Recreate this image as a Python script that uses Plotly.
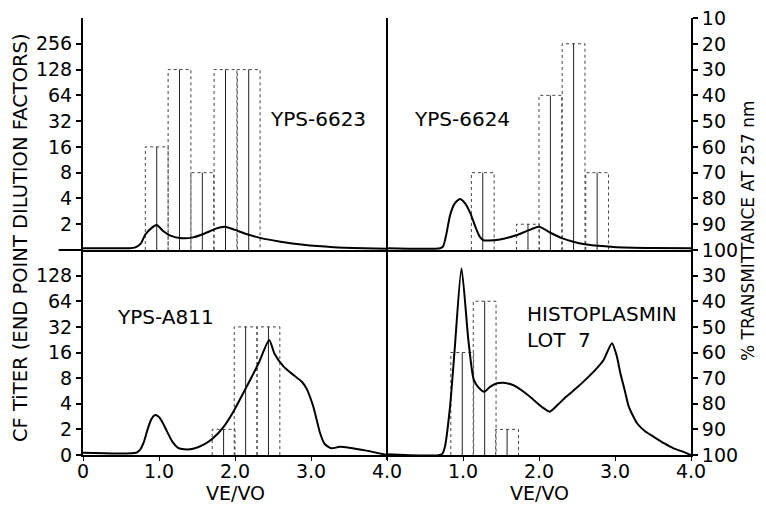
import math
import plotly.graph_objects as go

# ---------------- data ----------------
ve_tick_vals = [0, 1, 2, 3, 4]
ve_tick_text_left = ["0", "1.0", "2.0", "3.0", "4.0"]
ve_tick_text_right = ["", "1.0", "2.0", "3.0", "4.0"]

titer_ticks_top = [2, 4, 8, 16, 32, 64, 128, 256]
titer_ticks_bottom = [0, 2, 4, 8, 16, 32, 64, 128]
trans_ticks_top = [10, 20, 30, 40, 50, 60, 70, 80, 90, 100]
trans_ticks_bottom = [30, 40, 50, 60, 70, 80, 90, 100]

pair_width = 0.30  # VE/VO span of one pair of fractions

# Panel 1: YPS-6623
p1_label = "YPS-6623"
p1_bar_ve = [0.97, 1.27, 1.57, 1.875, 2.18]
p1_bar_titer = [16, 128, 8, 128, 128]
p1_curve_ve = [0, 0.6, 0.68, 0.76, 0.82, 0.9, 0.97, 1.05, 1.15, 1.3, 1.45, 1.6, 1.75,
               1.87, 2.0, 2.15, 2.33, 2.6, 2.9, 3.3, 3.7, 4.0]
p1_curve_trans = [99.3, 99.3, 99.1, 97.5, 94.0, 91.5, 90.3, 92.5, 94.4, 95.4, 95.1, 93.6, 91.7,
                  91.0, 92.2, 93.8, 95.3, 96.8, 98.0, 98.9, 99.3, 99.5]

# Panel 2: YPS-6624
p2_label = "YPS-6624"
p2_bar_ve = [1.26, 1.855, 2.15, 2.455, 2.765]
p2_bar_titer = [8, 2, 64, 256, 8]
p2_curve_ve = [0, 0.7, 0.74, 0.78, 0.83, 0.89, 0.96, 1.03, 1.1, 1.17, 1.22, 1.27, 1.4, 1.55,
               1.71, 1.85, 2.0, 2.15, 2.3, 2.45, 2.63, 2.98, 3.5, 4.0]
p2_curve_trans = [99.3, 99.3, 98.5, 94.0, 86.5, 82.0, 80.2, 82.0, 86.0, 91.5, 94.8, 96.2, 96.2, 95.5,
                  94.2, 92.5, 91.0, 93.3, 95.4, 96.8, 97.9, 98.8, 99.2, 99.3]

# Panel 3: YPS-A811
p3_label = "YPS-A811"
p3_bar_ve = [1.85, 2.14, 2.44]
p3_bar_titer = [2, 32, 32]
p3_curve_ve = [0, 0.7, 0.75, 0.8, 0.85, 0.9, 0.95, 1.0, 1.05, 1.1, 1.18, 1.25, 1.33, 1.45, 1.6,
               1.71, 1.85, 1.98, 2.15, 2.31, 2.45, 2.52, 2.64, 2.77, 2.88, 2.94, 3.03, 3.12,
               3.18, 3.27, 3.38, 3.73, 4.0]
p3_curve_trans = [99.1, 99.1, 98.0, 95.0, 90.0, 86.0, 84.4, 85.2, 87.5, 90.5, 95.0, 97.2, 97.8, 97.6, 95.8,
                  93.5, 89.0, 83.0, 73.5, 64.2, 55.1, 60.5, 65.5, 68.8, 71.4, 74.0, 81.1, 91.5,
                  95.7, 97.4, 96.8, 98.3, 100.0]

# Panel 4: HISTOPLASMIN LOT 7
p4_label = "HISTOPLASMIN<br>LOT  7"
p4_bar_ve = [0.99, 1.285, 1.58]
p4_bar_titer = [16, 64, 2]
p4_curve_ve = [0, 0.72, 0.76, 0.83, 0.89, 0.98, 1.07, 1.14, 1.2, 1.28, 1.36, 1.45, 1.53, 1.62,
               1.71, 1.82, 1.93, 2.05, 2.14, 2.25, 2.36, 2.5, 2.63, 2.75, 2.85, 2.96, 3.02,
               3.07, 3.13, 3.18, 3.29, 3.4, 3.51, 3.65, 3.77, 3.9, 4.0]
p4_curve_trans = [99.7, 99.7, 97.0, 81.0, 59.0, 27.1, 55.0, 70.5, 73.5, 75.3, 73.3, 72.0, 71.8, 72.3,
                  73.5, 75.8, 78.5, 81.5, 83.1, 80.3, 77.2, 73.7, 70.1, 66.5, 62.9, 56.4, 61.0,
                  68.0, 75.0, 81.0, 87.6, 90.8, 92.9, 95.5, 97.4, 98.8, 100.0]


def titer_level(t):
    return math.log2(t) if t > 0 else 0


FONT = "DejaVu Sans"
fig = go.Figure()


def add_panel(bar_ve, bar_titer, curve_ve, curve_trans, xa, ya_titer, ya_trans):
    ox, oy, cx, cy = [], [], [], []
    for ve, t in zip(bar_ve, bar_titer):
        h = titer_level(t)
        l, r = ve - pair_width / 2, ve + pair_width / 2
        ox += [l, l, r, r, None]
        oy += [0, h, h, 0, None]
        cx += [ve, ve, None]
        cy += [0, h, None]
    fig.add_trace(go.Scatter(x=ox, y=oy, mode="lines", xaxis=xa, yaxis=ya_titer,
                             line=dict(color="#444444", width=1, dash="dot"),
                             hoverinfo="skip", showlegend=False))
    fig.add_trace(go.Scatter(x=cx, y=cy, mode="lines", xaxis=xa, yaxis=ya_titer,
                             line=dict(color="#222222", width=1),
                             hoverinfo="skip", showlegend=False))
    fig.add_trace(go.Scatter(x=curve_ve, y=curve_trans, mode="lines", xaxis=xa, yaxis=ya_trans,
                             line=dict(color="black", width=2, shape="spline", smoothing=0.6),
                             showlegend=False))


add_panel(p1_bar_ve, p1_bar_titer, p1_curve_ve, p1_curve_trans, "x", "y", "y2")
add_panel(p2_bar_ve, p2_bar_titer, p2_curve_ve, p2_curve_trans, "x2", "y", "y2")
add_panel(p3_bar_ve, p3_bar_titer, p3_curve_ve, p3_curve_trans, "x3", "y3", "y4")
add_panel(p4_bar_ve, p4_bar_titer, p4_curve_ve, p4_curve_trans, "x4", "y3", "y4")

# figure sits 8px in from the page corner (body margin)
W, H = 758, 499
xl = [75 / W, 379 / W]
xr = [379 / W, 683 / W]
yt = [(H - 242) / H, (H - 10) / H]
yb = [(H - 447) / H, (H - 242) / H]

tickfont = dict(family=FONT, size=19, color="black")
common_x = dict(range=[0, 4], showgrid=False, zeroline=False, showline=True,
                linecolor="black", linewidth=2, automargin=False, fixedrange=True)
common_y = dict(showgrid=False, zeroline=False, showline=True, linecolor="black",
                linewidth=2, ticks="outside", ticklen=5, tickwidth=1.5, tickcolor="black",
                tickfont=tickfont, automargin=False, ticklabeloverflow="allow")

fig.update_layout(
    width=W, height=H,
    margin=dict(l=0, r=0, t=0, b=0),
    paper_bgcolor="white", plot_bgcolor="rgba(0,0,0,0)",
    font=dict(family=FONT, color="black"),
    xaxis=dict(domain=xl, anchor="y", showticklabels=False, ticks="", **common_x),
    xaxis2=dict(domain=xr, anchor="y2", showticklabels=False, ticks="", **common_x),
    xaxis3=dict(domain=xl, anchor="y3", tickvals=ve_tick_vals, ticktext=ve_tick_text_left,
                ticks="outside", ticklen=4, tickcolor="black", tickfont=tickfont,
                ticklabelstandoff=-6, **common_x),
    xaxis4=dict(domain=xr, anchor="y4", tickvals=ve_tick_vals, ticktext=ve_tick_text_right,
                ticks="outside", ticklen=4, tickcolor="black", tickfont=tickfont,
                ticklabelstandoff=-6, **common_x),
    yaxis=dict(domain=yt, anchor="x", range=[0, 9],
               tickvals=[titer_level(t) for t in titer_ticks_top],
               ticktext=[str(t) for t in titer_ticks_top], **common_y),
    yaxis2=dict(domain=yt, anchor="x2", side="right", range=[100, 9.97],
                tickvals=trans_ticks_top, ticktext=[str(t) for t in trans_ticks_top], **common_y),
    yaxis3=dict(domain=yb, anchor="x3", range=[0, 8],
                tickvals=[titer_level(t) for t in titer_ticks_bottom],
                ticktext=[str(t) for t in titer_ticks_bottom], **common_y),
    yaxis4=dict(domain=yb, anchor="x4", side="right", range=[100, 20],
                tickvals=trans_ticks_bottom, ticktext=[str(t) for t in trans_ticks_bottom], **common_y),
)

# decorations: divider between columns and baseline extension at upper left
fig.add_shape(type="line", xref="x2 domain", x0=0, x1=0, yref="paper",
              y0=(H - 452) / H, y1=(H - 10) / H, line=dict(color="black", width=2))
fig.add_shape(type="line", xref="x domain", x0=-0.08, x1=0, yref="y domain",
              y0=0, y1=0, line=dict(color="black", width=2))

labfont = dict(family=FONT, size=20, color="black")
fig.add_annotation(text=p1_label, x=2.43, y=5.1, xref="x", yref="y", xanchor="left",
                   yanchor="middle", showarrow=False, font=labfont)
fig.add_annotation(text=p2_label, x=0.33, y=5.1, xref="x2", yref="y", xanchor="left",
                   yanchor="middle", showarrow=False, font=labfont)
fig.add_annotation(text=p3_label, x=0.42, y=5.4, xref="x3", yref="y3", xanchor="left",
                   yanchor="middle", showarrow=False, font=labfont)
fig.add_annotation(text=p4_label, x=1.82, y=5.0, xref="x4", yref="y3", xanchor="left",
                   yanchor="middle", showarrow=False, align="left", font=labfont)

axfont = dict(family=FONT, size=19, color="black")
for xa in ("x3", "x4"):
    fig.add_annotation(text="VE/VO", x=2.0, xref=xa, y=(H - 485) / H, yref="paper",
                       xanchor="center", yanchor="middle", showarrow=False, font=axfont)

fig.add_annotation(text="CF TiTER (END POINT DILUTION FACTORS)", textangle=-90,
                   x=12 / W, y=(H - 230) / H, xref="paper", yref="paper",
                   xanchor="center", yanchor="middle",
                   showarrow=False, font=dict(family=FONT, size=19.5, color="black"))
fig.add_annotation(text="% TRANSMITTANCE AT 257 nm", textangle=-90,
                   x=740 / W, y=(H - 223) / H, xref="paper", yref="paper",
                   xanchor="center", yanchor="middle",
                   showarrow=False, font=dict(family=FONT, size=17, color="black"))

fig.write_html("out.html")
